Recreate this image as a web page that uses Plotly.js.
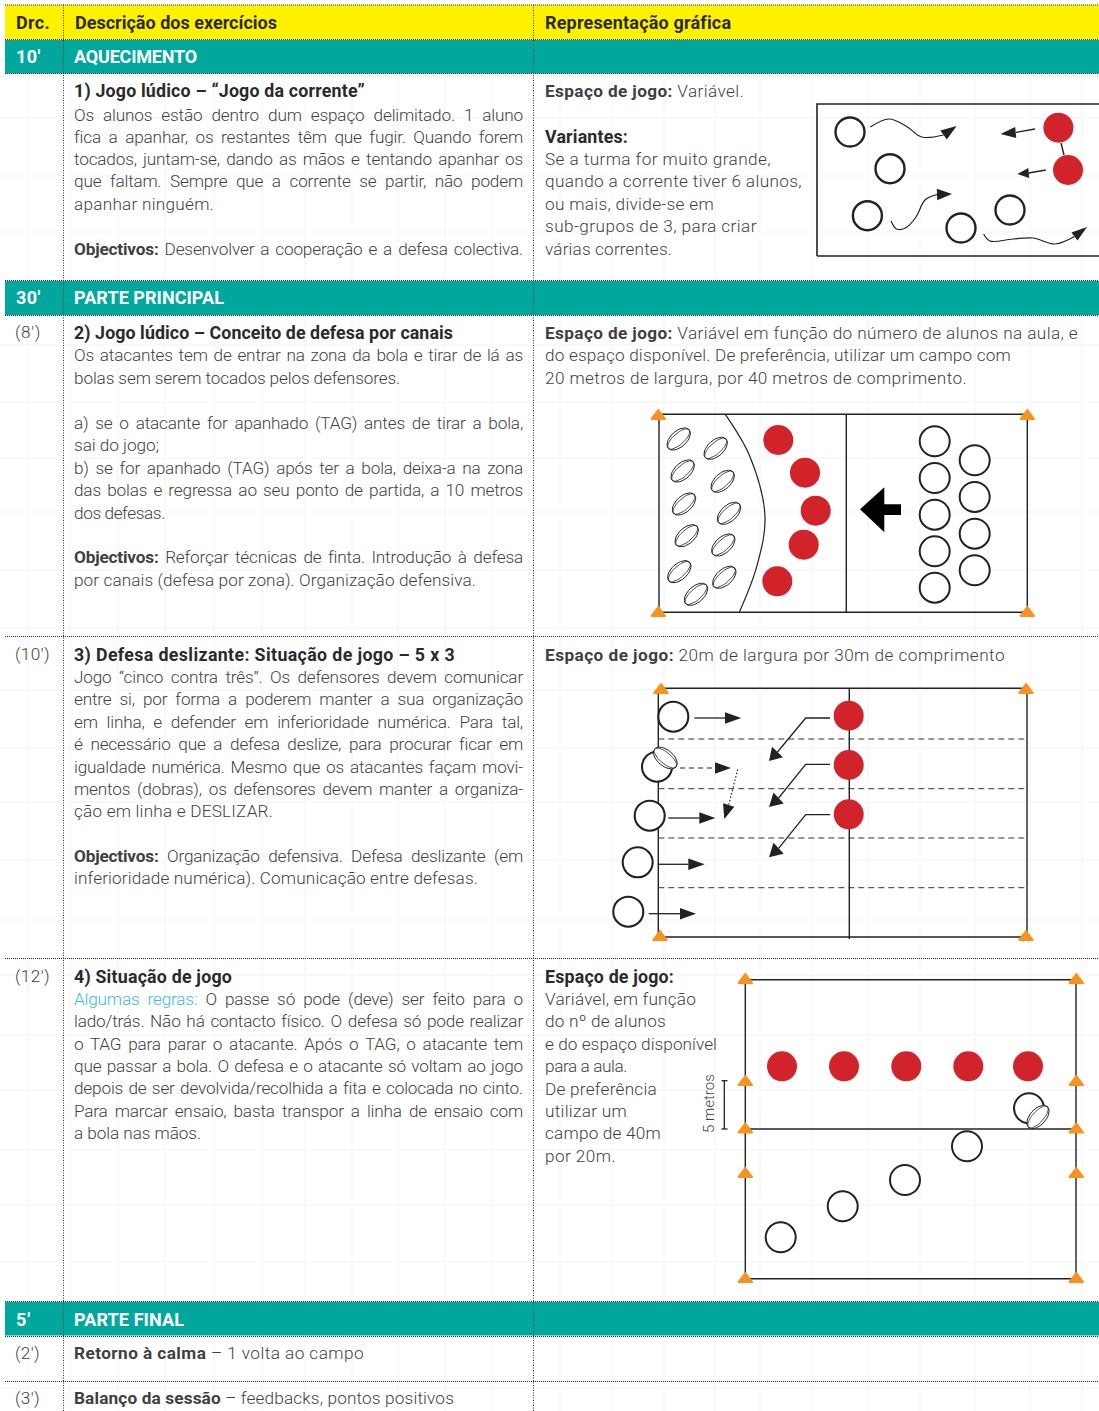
<!DOCTYPE html>
<html><head><meta charset="utf-8">
<script src="https://cdn.plot.ly/plotly-3.0.1.min.js"></script>
<style>html,body{margin:0;padding:0;background:#fff}#c{width:1099px;height:1411px}</style>
</head><body><div id="c"></div>
<script>
// ---------- text content ----------
const headerLabels=["Drc.","Descrição dos exercícios","Representação gráfica"];
const phaseDurations=["10'","30'","5'"];
const phaseNames=["AQUECIMENTO","PARTE PRINCIPAL","PARTE FINAL"];
const subDurations=["(8')","(10')","(12')","(2')","(3')"];
const ex1Text=["<b>1) Jogo lúdico – “Jogo da corrente”</b>","Os alunos estão dentro dum espaço delimitado. 1 aluno","fica a apanhar, os restantes têm que fugir. Quando forem","tocados, juntam-se, dando as mãos e tentando apanhar os","que faltam. Sempre que a corrente se partir, não podem","apanhar ninguém.","<b>Objectivos:</b> Desenvolver a cooperação e a defesa colectiva."];
const ex1Side=["<b>Espaço de jogo:</b> Variável.","<b>Variantes:</b>","Se a turma for muito grande,","quando a corrente tiver 6 alunos,","ou mais, divide-se em","sub-grupos de 3, para criar","várias correntes."];
const ex2Text=["<b>2) Jogo lúdico – Conceito de defesa por canais</b>","Os atacantes tem de entrar na zona da bola e tirar de lá as","bolas sem serem tocados pelos defensores.","a) se o atacante for apanhado (TAG) antes de tirar a bola,","sai do jogo;","b) se for apanhado (TAG) após ter a bola, deixa-a na zona","das bolas e regressa ao seu ponto de partida, a 10 metros","dos defesas.","<b>Objectivos:</b> Reforçar técnicas de finta. Introdução à defesa","por canais (defesa por zona). Organização defensiva."];
const ex2Side=["<b>Espaço de jogo:</b> Variável em função do número de alunos na aula, e","do espaço disponível. De preferência, utilizar um campo com","20 metros de largura, por 40 metros de comprimento."];
const ex3Text=["<b>3) Defesa deslizante: Situação de jogo – 5 x 3</b>","Jogo “cinco contra três”. Os defensores devem comunicar","entre si, por forma a poderem manter a sua organização","em linha, e defender em inferioridade numérica. Para tal,","é necessário que a defesa deslize, para procurar ficar em","igualdade numérica. Mesmo que os atacantes façam movi-","mentos (dobras), os defensores devem manter a organiza-","ção em linha e DESLIZAR.","<b>Objectivos:</b> Organização defensiva. Defesa deslizante (em","inferioridade numérica). Comunicação entre defesas."];
const ex3Side=["<b>Espaço de jogo:</b> 20m de largura por 30m de comprimento"];
const ex4Text=["<b>4) Situação de jogo</b>","<span style=\"color:#3db8d8\">Algumas regras:</span> O passe só pode (deve) ser feito para o","lado/trás. Não há contacto físico. O defesa só pode realizar","o TAG para parar o atacante. Após o TAG, o atacante tem","que passar a bola. O defesa e o atacante só voltam ao jogo","depois de ser devolvida/recolhida a fita e colocada no cinto.","Para marcar ensaio, basta transpor a linha de ensaio com","a bola nas mãos."];
const ex4Side=["<b>Espaço de jogo:</b>","Variável, em função","do nº de alunos","e do espaço disponível","para a aula.","De preferência","utilizar um","campo de 40m","por 20m."];
const finalText=["<b>Retorno à calma</b> – 1 volta ao campo","<b>Balanço da sessão</b> – feedbacks, pontos positivos"];
const distanceLabel="5 metros";

// ---------- where each text ends (as read), and its line rows ----------
const J=523; // justified right edge of the description column
const ex1Ends=[365,J,J,J,J,214,J], ex1Rows=[91,114.5,136.8,158.8,181.3,203.8,248.8];
const ex1SideEnds=[744,628,771,802,714,757,672], ex1SideRows=[91,136,158.8,181.3,203.8,226.3,248.8];
const ex2Ends=[453,J,400,J,159,J,J,152,J,476], ex2Rows=[332.8,355.3,377.8,422.8,444.8,467.8,489.8,512.8,556.8,579.8];
const ex2SideEnds=[1078,1011,967], ex2SideRows=[332.8,355.3,377.8];
const ex3Ends=[455,J,J,J,J,J,J,273,J,478], ex3Rows=[654.5,676.8,698.8,721.8,743.8,766.8,788.8,811.3,855.8,877.8];
const ex3SideEnds=[1005], ex3SideRows=[654.5];
const ex4Ends=[232,J,J,J,J,J,J,201], ex4Rows=[976.5,998.8,1020.8,1043.8,1065.8,1088.3,1110.8,1133.3];
const ex4SideEnds=[674,696,666,717,619,657,627,661,616], ex4SideRows=[976.5,998.8,1021.3,1043.8,1065.8,1088.8,1110.8,1133.3,1155.8];
const finalEnds=[364,454], finalRows=[1353.3,1398.3];
const subEnds=[41,50,50,40,40], subRows=[332.4,654.4,976.4,1353.3,1398.3];

// ---------- diagram data (page units) ----------
const d1RingsX=[850,890,867.4,961,1010], d1RingsY=[132,168.7,215.7,228,210];
const d1RedX=[1058.4,1068], d1RedY=[127.7,170];
const d2RingsX=[934.7,934.7,934.7,934.7,934.7,974.7,974.7,974.7,974.7], d2RingsY=[441.3,478,514.7,551.3,587.7,460.3,497,533.7,570.3];
const d2RedX=[778.3,805,815.7,803.7,777.3], d2RedY=[440,472.7,510.7,544.7,581.3];
const d2BallX=[678.7,715.7,682.7,722.7,684,729,686.7,723.3,679.3,724.3,696], d2BallY=[439,448.3,471,481.3,504,513.3,535.7,545,571.7,577.3,594.3];
const d3RingsX=[673.3,657,649.7,637.7,628.3], d3RingsY=[716.7,766.7,815.7,862.3,911.7];
const d3RedX=[848.7,848.7,848.7], d3RedY=[715.7,765,814.3];
const d4RingsX=[1029,967,905,842.7,780.7], d4RingsY=[1108.3,1146.3,1180,1206.3,1237.3];
const d4RedX=[782,844,906.3,968.3,1028], d4RedY=[1066.3,1066.3,1066.3,1066.3,1066.3];
const coneX=[658.3,1027.3,658.3,1027.3, 661,1026,660,1026, 745.3,745.3,745.3,745.3,745.3,1076.3,1076.3,1076.3,1076.3,1076.3];
const coneY=[416,416,613,613, 690,690,937,937, 980,1082,1129.5,1174,1279, 980,1082,1129.5,1174,1279];

// ---------- layout helpers ----------
const FONT="Roboto, 'Open Sans', sans-serif", INK="#3f3f42", DARK="#2a2a2c", TEAL="#00a79d", YEL="#fff200", RED="#d2232a", ORANGE="#f7931e", LINE="#222222";
const anns=[], fits=[];
function put(text,x,y,end,size,color,weight,justify){
  anns.push({text,x,y,xref:'x',yref:'y',xanchor:'left',yanchor:'middle',align:'left',showarrow:false,borderpad:0,borderwidth:0,
    font:{family:FONT,size,color,weight}});
  fits.push({end,x,justify});
}
function block(lines,x,rows,ends){lines.forEach((t,i)=>{const allBold=t.startsWith('<b>')&&!t.includes('</b> ');put(t,x,rows[i],ends[i],allBold?17.8:17.2,allBold?DARK:INK,300,ends[i]===J&&x<100);});}
put(headerLabels[0],16,22.5,50,18,DARK,700); put(headerLabels[1],75,22.5,277,18,DARK,700); put(headerLabels[2],545,22.5,731,18,DARK,700);
[56,297.5,1319].forEach((y,i)=>{put('<b>'+phaseDurations[i]+'</b>',16,y,i==2?31:41,18,'#fff',700);put('<b>'+phaseNames[i]+'</b>',74,y,[197,224,184][i],18,'#fff',700);});
block(ex1Text,74,ex1Rows,ex1Ends); block(ex1Side,545,ex1SideRows,ex1SideEnds);
block(ex2Text,74,ex2Rows,ex2Ends); block(ex2Side,545,ex2SideRows,ex2SideEnds);
block(ex3Text,74,ex3Rows,ex3Ends); block(ex3Side,545,ex3SideRows,ex3SideEnds);
block(ex4Text,74,ex4Rows,ex4Ends); block(ex4Side,545,ex4SideRows,ex4SideEnds);
block(finalText,74,finalRows,finalEnds);
subDurations.forEach((t,i)=>put(t,15,subRows[i],subEnds[i],17.2,INK,300));
anns.push({text:distanceLabel,x:709,y:1104,xref:'x',yref:'y',textangle:-90,showarrow:false,borderpad:0,font:{family:FONT,size:15,color:INK,weight:300}});

const shapes=[];
const rect=(x0,y0,x1,y1,c)=>shapes.push({type:'rect',layer:'below',x0,y0,x1,y1,fillcolor:c,line:{width:0}});
// faint paper texture
const paperX=[28,70,118,165,214,262,305,352,398,445,492,560,612,664,715,760,812,868,920,975,1030,1082];
const paperY=[60,118,176,232,288,345,402,458,512,570,628,690,748,802,860,920,975,1035,1090,1150,1205,1262,1320,1388];
paperX.forEach(x=>shapes.push({type:'line',layer:'below',x0:x,x1:x,y0:0,y1:1411,line:{color:'#f8f9fc',width:2}}));
paperY.forEach(y=>shapes.push({type:'line',layer:'below',x0:0,x1:1099,y0:y,y1:y,line:{color:'#f8f9fc',width:2}}));
rect(5,5,1099,39.5,YEL); rect(5,40,1099,73.5,TEAL); rect(5,281,1099,315,TEAL); rect(5,1302,1099,1335.5,TEAL);

const traces=[];
function lines(segs,color,width,dash,shape){
  const x=[],y=[];segs.forEach(s=>{s.forEach(p=>{x.push(p[0]);y.push(p[1]);});x.push(null);y.push(null);});
  traces.push({type:'scatter',mode:'lines',x,y,hoverinfo:'skip',line:{color,width,dash:dash||'solid',shape:shape||'linear',smoothing:1}});
}
function fills(polys,color,lw,lc){
  const x=[],y=[];polys.forEach(s=>{s.forEach(p=>{x.push(p[0]);y.push(p[1]);});x.push(s[0][0]);y.push(s[0][1]);x.push(null);y.push(null);});
  traces.push({type:'scatter',mode:'lines',x,y,fill:'toself',fillcolor:color,hoverinfo:'skip',line:{color:lc||color,width:lw||0}});
}
function markers(x,y,size,color,lw,lc,symbol){
  traces.push({type:'scatter',mode:'markers',x,y,hoverinfo:'skip',marker:{symbol:symbol||'circle',size,color,line:{width:lw||0,color:lc||color}}});
}
function head(base,tip,hw){
  const dx=tip[0]-base[0],dy=tip[1]-base[1],L=Math.hypot(dx,dy),nx=-dy/L*hw,ny=dx/L*hw;
  return [tip,[base[0]+nx,base[1]+ny],[base[0]-nx,base[1]-ny]];
}
function ell(c,a,b,deg){
  const t=deg*Math.PI/180,o=[];
  for(let i=0;i<32;i++){const u=i/32*2*Math.PI,X=a*Math.cos(u),Y=b*Math.sin(u);o.push([c[0]+X*Math.cos(t)-Y*Math.sin(t),c[1]+X*Math.sin(t)+Y*Math.cos(t)]);}
  return o;
}
function balls(list){
  fills(list.map(b=>ell(b[0],14,8,b[1])),'#ffffff',1,LINE);
  const inner=list.map(b=>{const e=ell(b[0],14,5.6,b[1]);e.push(e[0]);return e;});
  lines(inner,LINE,0.8);
}

// field lines
const rows=[[5,1099,5],[5,1099,39.5],[5,1099,73.5],[5,1099,280.5],[5,1099,315.5],[5,1099,636.5],[5,1099,958.5],[5,1099,1301.5],[5,1099,1336.5],[5,1099,1381.5]];
lines([[[817,256],[817,104],[1099,104]],[[817,256],[1099,256]]],LINE,1.6);
lines([[[659,414.3],[1027.3,414.3],[1027.3,612.3],[659,612.3],[659,414.3]],[[846.3,414.3],[846.3,612.3]]],LINE,1.4);
lines([[[725.3,414.3],[750,456.7],[765,516.7],[756.7,566.7],[739.3,612.3]]],LINE,1.2,'solid','spline');
lines([[[658.3,688.3],[1027,688.3],[1027,937],[658.3,937],[658.3,688.3]],[[849.3,688.3],[849.3,939]]],LINE,1.4);
lines([[[658.3,739],[1027,739]],[[658.3,788.7],[1027,788.7]],[[658.3,838],[1027,838]],[[658.3,887.7],[1027,887.7]]],'#333',1,'6px,4px');
lines([[[745.3,979.7],[1076,979.7],[1076,1278.7],[745.3,1278.7],[745.3,979.7]],[[745.3,1129],[1076,1129]]],LINE,1.4);
lines([[[724.3,1080.7],[724.3,1129]],[[721.5,1080.7],[727.5,1080.7]],[[721.5,1129],[727.5,1129]]],LINE,1.3);
// table rules
lines(rows.map(r=>[[r[0],r[2]],[r[1],r[2]]]),'#2c2c2c',1,'1px,1px');
lines([[[63.5,5],[63.5,1411]],[[533.5,5],[533.5,1411]]],'#2c2c2c',1,'1px,1.5px');

// movement paths
lines([[[1061,143],[1064,155]]],LINE,1.4);
const curves=[[[870.3,127],[889,119],[907,126.7],[921.7,137],[943.6,135]],[[891,221],[896.5,229],[905.5,228],[916,217],[925,200],[937,194.5]],[[983.6,234],[990,241],[1013,239],[1033,238],[1055,244],[1074.5,236.5]]];
lines(curves,LINE,1.2,'solid','spline');
const straight=[[[1035,129],[1015.7,132.5]],[[1045.8,170],[1028.8,173]],[[694.3,718],[725,718]],[[668.3,818],[699.3,818]],[[657.7,864.3],[688.3,864.3]],[[648.7,913.7],[680,913.7]],[[830,718],[805.7,718],[777.5,752]],[[830,764.3],[805.7,764.3],[778.6,798]],[[830,814.7],[805.7,814.7],[778.6,848.3]]];
lines(straight,LINE,1.3);
lines([[[680,768],[715,768]]],LINE,1.2,'5px,4px');
lines([[[737.7,769.3],[728.7,805]]],LINE,1.2,'1.5px,2px');
fills([
 head([943.6,135],[956.6,126],5.6),head([937,194.5],[952,194],5.7),head([1074.5,236.5],[1087,227],5),
 head([1015.7,132.5],[1000.5,134],5.5),head([1028.8,173],[1017.4,174],5),
 head([725,718],[741.3,718],5.7),head([715,768],[731,768],5.7),head([728.7,805],[724.3,819],5.9),
 head([699.3,818],[715.3,818],5.7),head([688.3,864.3],[704.7,864.3],5.7),head([680,913.7],[696,913.7],5.7),
 head([777.5,752],[769,761],7.5),head([778.6,798],[769,807],7.5),head([778.6,848.3],[769,857.3],7.5)
],LINE);
fills([[[860,509.3],[884.3,487.3],[884.3,504.3],[901,504.3],[901,515],[884.3,515],[884.3,532.3]]],'#000000');

// players, balls, cones
markers(d1RingsX,d1RingsY,29,'#fff',2.4,LINE);
markers(d2RingsX,d2RingsY,30,'#fff',2,LINE);
markers(d3RingsX,d3RingsY,30,'#fff',2.1,LINE);
markers(d4RingsX,d4RingsY,30,'#fff',2,LINE);
markers(d1RedX.concat(d2RedX,d3RedX,d4RedX),d1RedY.concat(d2RedY,d3RedY,d4RedY),30,RED);
balls(d2BallX.map((x,i)=>[[x,d2BallY[i]],-42]));
balls([[[665.3,758],40],[[1038,1117],-48]]);
markers(coneX,coneY,12.5,ORANGE,1.5,ORANGE,'triangle-up');

const axis={visible:false,fixedrange:true,showgrid:false,zeroline:false,autorange:false};
const layout={width:1099,height:1411,margin:{l:0,r:0,t:0,b:0,pad:0},showlegend:false,paper_bgcolor:'#ffffff',plot_bgcolor:'#ffffff',
  xaxis:Object.assign({range:[0,1099]},axis),yaxis:Object.assign({range:[1411,0]},axis),shapes,annotations:anns};
const gd=document.getElementById('c');
Plotly.newPlot(gd,traces,layout,{displayModeBar:false,responsive:false}).then(()=>{
  fits.forEach((f,i)=>{
    const el=gd.querySelector('.annotation[data-index="'+i+'"] .annotation-text');
    if(!el||!f.end)return;
    const target=f.end-f.x,txt=el.textContent,n=(txt.match(/ /g)||[]).length;
    if(f.justify&&n>0){
      el.style.letterSpacing='-0.18px';
      const w=el.getComputedTextLength();
      if(w>target){
        el.style.letterSpacing=(-0.18+(target-w)/txt.length).toFixed(3)+'px';
      }else{
        el.style.wordSpacing=((target-w)/n).toFixed(3)+'px';
      }
    }else{
      const w=el.getComputedTextLength();
      const ls=Math.max(-0.4,(target-w)/Math.max(1,txt.length));
      el.style.letterSpacing=ls.toFixed(3)+'px';
    }
  });
});
</script></body></html>
